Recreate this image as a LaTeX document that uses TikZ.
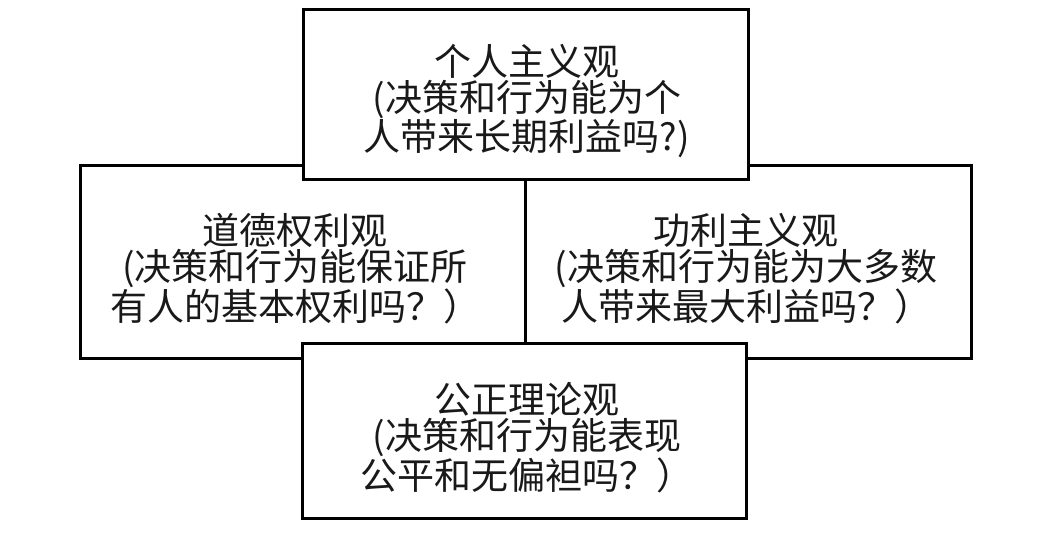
\documentclass[tikz,border=0pt]{standalone}
\usepackage{fontspec}
\newfontfamily\cjk{Noto Sans CJK SC}
\begin{document}
\begin{tikzpicture}[x=1pt,y=-1pt,
  boxst/.style={draw=black,line width=3pt,fill=white,rectangle,inner sep=0pt},
  txt/.style={font=\cjk\fontsize{37}{36}\selectfont,align=center,inner sep=0pt,text=black!90}]
\useasboundingbox[fill=white] (0,0) rectangle (1042,553);
\node[boxst,minimum width=445pt,minimum height=193pt] (lbox) at (302.5,262.5) {};
\node[boxst,minimum width=446pt,minimum height=193pt] (rbox) at (748,262.5) {};
\node[boxst,minimum width=445pt,minimum height=170pt] (tbox) at (525.5,95) {};
\node[boxst,minimum width=444pt,minimum height=174pt] (bbox) at (524,431) {};
\node[txt] (ttxt) at (527,101) {个人主义观\\(决策和行为能为个\\人带来长期利益吗?)};
\node[txt] (ltxt) at (295,269) {道德权利观\\(决策和行为能保证所\\有人的基本权利吗？）};
\node[txt] (rtxt) at (746,269) {功利主义观\\(决策和行为能为大多数\\人带来最大利益吗？）};
\node[txt] (btxt) at (527,438) {公正理论观\\(决策和行为能表现\\公平和无偏袒吗？）};
\end{tikzpicture}
\end{document}
